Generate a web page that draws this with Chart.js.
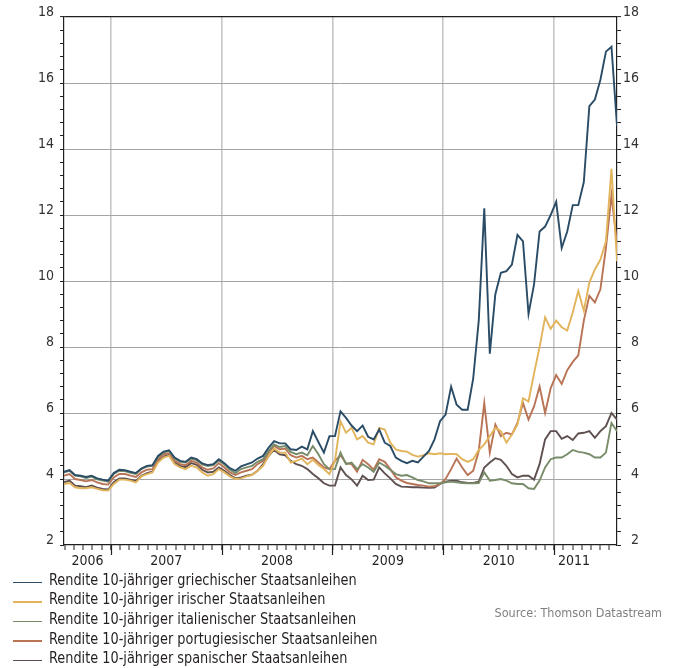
<!DOCTYPE html>
<html>
<head>
<meta charset="utf-8">
<script src="https://cdn.jsdelivr.net/npm/chart.js@4.4.0/dist/chart.umd.min.js"></script>
<style>
  html, body { margin: 0; padding: 0; background: #ffffff; }
  #wrap { position: relative; width: 676px; height: 668px; overflow: hidden; }
  #c { position: absolute; left: 0; top: 0; }
  #legend { position: absolute; left: 0; top: 570px; font-family: "Liberation Sans Narrow", "DejaVu Sans Condensed", "Liberation Sans", sans-serif; font-size: 15px; color: #231f20; }
  .row { display: flex; align-items: center; height: 19.6px; white-space: nowrap; }
  .sw { width: 29px; height: 1.6px; margin-left: 13px; margin-right: 7px; margin-top: 5px; flex: none; }
  .txt { display: inline-block; transform: scaleX(0.955); transform-origin: 0 50%; }
  #source { position: absolute; right: 14px; top: 605px; font-family: "Liberation Sans Narrow", "DejaVu Sans Condensed", "Liberation Sans", sans-serif; font-size: 12.5px; color: #808080; white-space: nowrap; }
</style>
</head>
<body>
<div id="wrap">
  <canvas id="c" width="676" height="668"></canvas>
  <div id="legend"></div>
  <div id="source">Source: Thomson Datastream</div>
</div>
<script>
// ---- data (10-year government bond yields, %, sampled every ~2.6 weeks from mid-2006 to mid-2011) ----
const seriesNames = [
  "Rendite 10-jähriger griechischer Staatsanleihen",
  "Rendite 10-jähriger irischer Staatsanleihen",
  "Rendite 10-jähriger italienischer Staatsanleihen",
  "Rendite 10-jähriger portugiesischer Staatsanleihen",
  "Rendite 10-jähriger spanischer Staatsanleihen"
];
const seriesColors = ["#2a4c66", "#e2b45c", "#788c69", "#b97355", "#5f5050"];

const greece = [4.22,4.27,4.12,4.10,4.06,4.10,4.02,3.98,3.95,4.18,4.28,4.27,4.22,4.18,4.32,4.40,4.42,4.70,4.83,4.87,
  4.65,4.55,4.52,4.65,4.60,4.47,4.42,4.45,4.60,4.48,4.33,4.25,4.38,4.44,4.50,4.62,4.70,4.95,5.15,5.08,
  5.08,4.90,4.88,4.98,4.90,5.45,5.12,4.80,5.30,5.30,6.05,5.85,5.62,5.45,5.62,5.28,5.20,5.50,5.10,5.00,
  4.65,4.55,4.48,4.55,4.50,4.68,4.85,5.20,5.75,5.95,6.80,6.25,6.10,6.10,7.05,8.80,12.20,7.80,9.60,10.25,
  10.30,10.50,11.40,11.20,9.00,9.90,11.50,11.65,12.00,12.40,11.00,11.50,12.30,12.30,13.00,15.30,15.50,16.10,16.95,17.10,14.70];

const ireland = [3.85,3.88,3.75,3.72,3.72,3.75,3.70,3.66,3.65,3.85,3.98,3.98,3.95,3.90,4.08,4.15,4.20,4.50,4.65,4.70,
  4.45,4.35,4.30,4.40,4.35,4.20,4.10,4.15,4.30,4.20,4.08,4.00,4.02,4.08,4.12,4.25,4.40,4.70,4.92,4.80,
  4.80,4.50,4.55,4.62,4.45,4.58,4.42,4.30,4.15,4.55,5.75,5.40,5.55,5.20,5.30,5.10,5.05,5.55,5.50,5.10,
  4.90,4.85,4.83,4.73,4.68,4.72,4.78,4.75,4.78,4.75,4.76,4.75,4.60,4.52,4.60,4.88,5.05,5.30,5.55,5.45,
  5.10,5.35,5.65,6.45,6.35,7.20,8.00,8.90,8.55,8.80,8.60,8.50,9.05,9.70,9.10,9.95,10.35,10.65,11.20,13.40,10.60];

const italy = [4.20,4.25,4.10,4.08,4.03,4.07,3.99,3.95,3.92,4.15,4.25,4.24,4.19,4.15,4.30,4.38,4.40,4.67,4.80,4.85,
  4.62,4.52,4.50,4.62,4.57,4.44,4.39,4.42,4.56,4.44,4.28,4.18,4.30,4.35,4.40,4.52,4.60,4.85,5.05,4.97,
  5.00,4.82,4.75,4.80,4.72,5.00,4.75,4.45,4.30,4.30,4.80,4.45,4.50,4.30,4.45,4.35,4.22,4.50,4.40,4.28,
  4.15,4.10,4.12,4.05,3.97,3.93,3.87,3.87,3.87,3.90,3.92,3.90,3.88,3.87,3.87,3.88,4.20,3.95,3.97,4.00,
  3.95,3.87,3.85,3.85,3.72,3.70,3.95,4.35,4.60,4.65,4.65,4.75,4.88,4.82,4.80,4.75,4.65,4.65,4.80,5.70,5.45];

const portugal = [4.10,4.15,4.00,3.97,3.93,3.97,3.90,3.85,3.83,4.05,4.15,4.15,4.10,4.06,4.20,4.28,4.30,4.60,4.75,4.78,
  4.55,4.45,4.42,4.55,4.50,4.35,4.28,4.32,4.48,4.35,4.20,4.12,4.20,4.25,4.30,4.45,4.55,4.80,5.00,4.90,
  4.92,4.72,4.65,4.70,4.60,4.65,4.50,4.35,4.30,4.55,4.72,4.48,4.45,4.22,4.58,4.45,4.28,4.60,4.52,4.30,
  4.05,3.95,3.88,3.85,3.82,3.80,3.77,3.78,3.85,4.00,4.30,4.62,4.35,4.12,4.25,4.85,6.30,4.80,5.65,5.30,
  5.40,5.35,5.70,6.30,5.80,6.20,6.80,6.00,6.75,7.15,6.88,7.30,7.55,7.75,8.80,9.55,9.35,9.75,11.00,12.60,11.10];

const spain = [3.90,3.95,3.80,3.78,3.75,3.80,3.74,3.70,3.68,3.90,4.02,4.02,3.98,3.94,4.10,4.18,4.22,4.53,4.68,4.73,
  4.50,4.40,4.36,4.48,4.43,4.28,4.20,4.22,4.35,4.25,4.12,4.02,4.05,4.10,4.13,4.25,4.45,4.70,4.88,4.75,
  4.72,4.55,4.45,4.40,4.30,4.15,4.02,3.87,3.80,3.80,4.35,4.12,3.99,3.80,4.10,3.97,3.98,4.35,4.17,4.02,
  3.85,3.77,3.76,3.75,3.75,3.74,3.73,3.74,3.85,3.92,3.95,3.95,3.90,3.88,3.88,3.92,4.35,4.50,4.63,4.58,
  4.40,4.15,4.05,4.10,4.10,3.98,4.45,5.20,5.45,5.45,5.22,5.30,5.18,5.38,5.40,5.45,5.25,5.45,5.60,6.00,5.80];

// time axis: first and last sample (decimal years)
const startYear = 2006.577, endYear = 2011.568;
const yearLabels = ["2006", "2007", "2008", "2009", "2010", "2011"];
const yearLabelPos = [2006.79, 2007.5, 2008.5, 2009.5, 2010.5, 2011.18];
const yMin = 2, yMax = 18, yMajorStep = 2, yMinorStep = 0.4;

// ---- build ----
const FONT = "'Liberation Sans Narrow', 'DejaVu Sans Condensed', 'Liberation Sans', sans-serif";
const TEXT = "#231f20";
const series = [greece, ireland, italy, portugal, spain];
const N = greece.length;
const xs = greece.map((_, i) => startYear + i * (endYear - startYear) / (N - 1));

// x ticks: monthly marks + label-only positions
const xTicks = [];
for (let y = 2006; y <= 2011; y++) {
  for (let m = 0; m < 12; m++) {
    const v = y + m / 12;
    if (v >= startYear - 1e-9 && v <= endYear + 1e-9) xTicks.push({ v: v, mark: true, year: m === 0, lbl: "" });
  }
}
yearLabels.forEach((l, k) => {
  const p = yearLabelPos[k];
  const same = xTicks.find(t => Math.abs(t.v - p) < 1e-6);
  if (same) same.lbl = l; else xTicks.push({ v: p, mark: false, year: false, lbl: l });
});
xTicks.sort((a, b) => a.v - b.v);

const yTicks = [];
for (let k = 0; k <= Math.round((yMax - yMin) / yMinorStep); k++) {
  yTicks.push(Math.round((yMin + k * yMinorStep) * 10) / 10);
}
const isMajorY = v => Math.abs(((v - yMin) / yMajorStep) - Math.round((v - yMin) / yMajorStep)) < 1e-6;

const legend = document.getElementById("legend");
seriesNames.forEach((n, i) => {
  const r = document.createElement("div"); r.className = "row";
  const s = document.createElement("div"); s.className = "sw"; s.style.background = seriesColors[i];
  const t = document.createElement("span"); t.className = "txt"; t.textContent = n;
  r.appendChild(s); r.appendChild(t); legend.appendChild(r);
});

const yearTickPlugin = {
  id: "yearTicks",
  afterDraw(chart) {
    const xs_ = chart.scales.x, ctx = chart.ctx;
    ctx.save();
    ctx.strokeStyle = TEXT; ctx.lineWidth = 1.2;
    xTicks.filter(t => t.year).forEach(t => {
      const px = Math.round(xs_.getPixelForValue(t.v)) + 0.5;
      ctx.beginPath(); ctx.moveTo(px, xs_.top); ctx.lineTo(px, xs_.top + 10); ctx.stroke();
    });
    ctx.restore();
  }
};

function yAxis(pos) {
  return {
    type: "linear", position: pos, min: yMin, max: yMax,
    afterBuildTicks: s => { s.ticks = yTicks.map(v => ({ value: v })); },
    afterFit: s => { s.width = pos === "left" ? 64 : 22; },
    border: { color: TEXT, width: 1.2 },
    grid: {
      drawOnChartArea: pos === "left",
      color: ctx => {
        const v = ctx.tick ? ctx.tick.value : 0;
        if (Math.abs(v - yMax) < 1e-6) return TEXT;
        if (Math.abs(v - yMin) < 1e-6) return "rgba(0,0,0,0)";
        return isMajorY(v) ? "#a4a4a4" : "rgba(0,0,0,0)";
      },
      lineWidth: ctx => (ctx.tick && Math.abs(ctx.tick.value - yMax) < 1e-6) ? 1.2 : 1,
      tickColor: TEXT, tickWidth: 1, tickLength: 4
    },
    ticks: {
      autoSkip: false, padding: pos === "left" ? 6 : 2, labelOffset: -4.5,
      crossAlign: pos === "left" ? "near" : "far",
      color: "#333333", font: { family: FONT, size: 14 },
      callback: v => isMajorY(v) ? String(Math.round(v)) : ""
    }
  };
}

new Chart(document.getElementById("c"), {
  type: "line",
  data: {
    datasets: series.map((vals, i) => ({
      label: seriesNames[i],
      data: vals.map((v, j) => ({ x: xs[j], y: v })),
      borderColor: seriesColors[i],
      backgroundColor: seriesColors[i],
      borderWidth: 1.9, pointRadius: 0, tension: 0, fill: false, yAxisID: "y"
    }))
  },
  options: {
    responsive: false, animation: false, devicePixelRatio: 1,
    layout: { padding: { left: 0, right: 37, top: 17, bottom: 99 } },
    plugins: { legend: { display: false }, tooltip: { enabled: false } },
    scales: {
      x: {
        type: "linear", min: startYear, max: endYear,
        afterBuildTicks: s => { s.ticks = xTicks.map(t => ({ value: t.v })); },
        afterFit: s => { s.height = 24; },
        border: { color: TEXT, width: 1.2 },
        grid: {
          color: ctx => (xTicks[ctx.index] && xTicks[ctx.index].year) ? "#c6c6c6" : "rgba(0,0,0,0)",
          lineWidth: ctx => (xTicks[ctx.index] && xTicks[ctx.index].year) ? 1.6 : 0,
          tickColor: ctx => (xTicks[ctx.index] && xTicks[ctx.index].mark) ? TEXT : "rgba(0,0,0,0)",
          tickWidth: 1, tickLength: 5
        },
        ticks: {
          autoSkip: false, maxRotation: 0, minRotation: 0, padding: 3,
          color: TEXT, font: { family: FONT, size: 14 },
          callback: (v, i) => xTicks[i] ? xTicks[i].lbl : ""
        }
      },
      y: yAxis("left"),
      y2: yAxis("right")
    }
  },
  plugins: [yearTickPlugin]
});
</script>
</body>
</html>
